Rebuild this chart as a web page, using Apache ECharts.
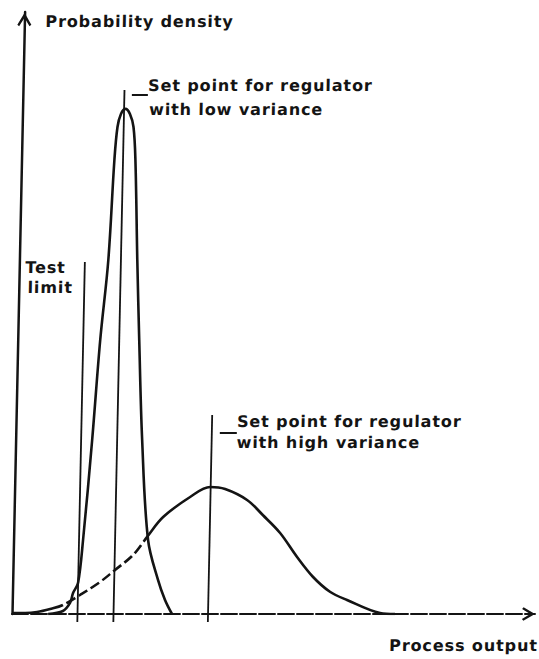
<!DOCTYPE html>
<html>
<head>
<meta charset="utf-8">
<title>Set point and test limit</title>
<script src="https://cdn.jsdelivr.net/npm/echarts@6/dist/echarts.min.js"></script>
<style>
  html, body { margin: 0; padding: 0; background: #fff; }
  #chart {
    width: 539px;
    height: 659px;
    /* the scanned figure leans slightly to the right */
    transform: skewX(-1.2deg);
    transform-origin: 0 614px;
  }
  #chart text { letter-spacing: 0.9px; }
</style>
</head>
<body>
<div id="chart"></div>
<script>
// process output / probability density, both (0..100 scale)
const narrowX = [6.9, 9.73, 11.05, 11.59, 12.5, 13.29, 14.63, 15.77, 17.0, 17.76, 18.22, 18.83, 19.67, 20.55, 21.28, 21.78, 22.54, 23.23, 24.19, 25.72, 27.78, 29.2, 30.59];
const narrowY = [0, 0.5, 1.83, 3.49, 5.15, 12.29, 28.9, 45.51, 58.8, 75.42, 80.9, 83.06, 83.9, 83.06, 80.9, 75.42, 58.8, 45.51, 28.9, 12.29, 5.65, 2.33, 0];

const wideX = [0, 2.49, 4.78, 7.27, 9.71, 12.93, 16.71, 19.52, 22.91, 25.6, 28.51, 33.59, 37.38, 40.25, 44.49, 47.6, 50.94, 54.28, 57.42, 60.7, 64.0, 70.36, 73.23];
const wideY = [0.17, 0.17, 0.33, 0.83, 1.5, 3.16, 5.32, 7.31, 9.8, 12.9, 16.11, 19.44, 21.1, 20.76, 18.94, 16.4, 13.46, 9.47, 6.15, 3.7, 2.33, 0.17, 0];
// part of the wide curve that is drawn dashed (inside the narrow peak)
const wideDashFrom = 4;
const wideDashTo = 9;

const testLimitX = 12.52, testLimitTop = 58.47;
const setLowX = 19.41, setLowTop = 87.04;
const setHighX = 37.48, setHighTop = 33.06;
const lineBottom = -1.33;

const yName = 'Probability density';
const xName = 'Process output';
const testLabel = ['Test', 'limit'];
const lowLabel = ['Set point for regulator', 'with low variance'];
const highLabel = ['Set point for regulator', 'with high variance'];

const ink = '#141414';
const font = 'DejaVu Sans';
const fontSize = 16;
const arrow = 'path://M5,0L10,8.6L8.7,9.7L5,3.6L1.3,9.7L0,8.6Z';

function pairs (xs, ys, from, to) {
  let out = [];
  for (let i = from; i <= to; i++) out.push([xs[i], ys[i]]);
  return out;
}

function curve (data, width, color, type) {
  return {
    type: 'line',
    data: data,
    smooth: 0.35,
    symbol: 'none',
    silent: true,
    lineStyle: { color: color, width: width, type: type || 'solid' }
  };
}

function vline (x, top) {
  return {
    type: 'line',
    data: [[x, lineBottom], [x, top]],
    symbol: 'none',
    clip: false,
    silent: true,
    lineStyle: { color: ink, width: 1.8 }
  };
}

let chart = echarts.init(document.getElementById('chart'), null, { renderer: 'svg' });

let option = {
  animation: false,
  backgroundColor: '#fff',
  grid: { left: 12, right: 4, top: 12, bottom: 45 },
  xAxis: {
    type: 'value',
    min: 0,
    max: 100,
    axisLine: {
      show: true,
      symbol: ['none', arrow],
      symbolSize: [15, 13],
      symbolOffset: [0, -6.5],
      lineStyle: { color: ink, width: 2, type: [16, 3] }
    },
    axisTick: { show: false },
    axisLabel: { show: false },
    splitLine: { show: false }
  },
  yAxis: {
    type: 'value',
    min: 0,
    max: 100,
    name: yName,
    nameLocation: 'end',
    nameGap: -9.5,
    nameTextStyle: {
      color: ink,
      fontFamily: font,
      fontWeight: 'bold',
      fontSize: fontSize,
      align: 'left',
      verticalAlign: 'middle',
      padding: [0, 0, 0, 21]
    },
    axisLine: {
      show: true,
      symbol: ['none', arrow],
      symbolSize: [14, 15],
      symbolOffset: [0, -7.5],
      lineStyle: { color: ink, width: 2.5 }
    },
    axisTick: { show: false },
    axisLabel: { show: false },
    splitLine: { show: false }
  },
  series: [
    // high variance curve in one piece, then white gaps over the hidden part
    curve(pairs(wideX, wideY, 0, wideX.length - 1), 2.6, ink),
    curve(pairs(wideX, wideY, wideDashFrom, wideDashTo), 4, '#fff', [4, 10]),
    curve(pairs(narrowX, narrowY, 0, narrowX.length - 1), 2.6, ink),
    vline(testLimitX, testLimitTop),
    vline(setLowX, setLowTop),
    vline(setHighX, setHighTop)
  ]
};
chart.setOption(option);

// annotation texts hang off the top of their vertical lines
function txt (s, p, dx, dy, align) {
  return {
    type: 'text',
    silent: true,
    style: {
      text: s,
      x: p[0] + dx,
      y: p[1] + dy,
      fill: ink,
      fontFamily: font,
      fontWeight: 'bold',
      fontSize: fontSize,
      align: align || 'left',
      verticalAlign: 'middle'
    }
  };
}
function dash (p, dx1, dx2, dy) {
  return {
    type: 'line',
    silent: true,
    shape: { x1: p[0] + dx1, y1: p[1] + dy, x2: p[0] + dx2, y2: p[1] + dy },
    style: { stroke: ink, lineWidth: 1.8 }
  };
}

let pTest = chart.convertToPixel({ gridIndex: 0 }, [testLimitX, testLimitTop]);
let pLow = chart.convertToPixel({ gridIndex: 0 }, [setLowX, setLowTop]);
let pHigh = chart.convertToPixel({ gridIndex: 0 }, [setHighX, setHighTop]);
let pEnd = chart.convertToPixel({ gridIndex: 0 }, [100, 0]);

chart.setOption({
  graphic: [
    txt(testLabel[0], pTest, -19, 5.5, 'right'),
    txt(testLabel[1], pTest, -11.5, 25.5, 'right'),
    dash(pLow, 7.5, 23.5, 5),
    txt(lowLabel[0], pLow, 23.5, -5),
    txt(lowLabel[1], pLow, 25, 19),
    dash(pHigh, 8, 25, 18),
    txt(highLabel[0], pHigh, 25, 7),
    txt(highLabel[1], pHigh, 25, 28),
    txt(xName, pEnd, 3.5, 31.5, 'right')
  ]
});

window.addEventListener('resize', function () { chart.resize() });
</script>
</body>
</html>
